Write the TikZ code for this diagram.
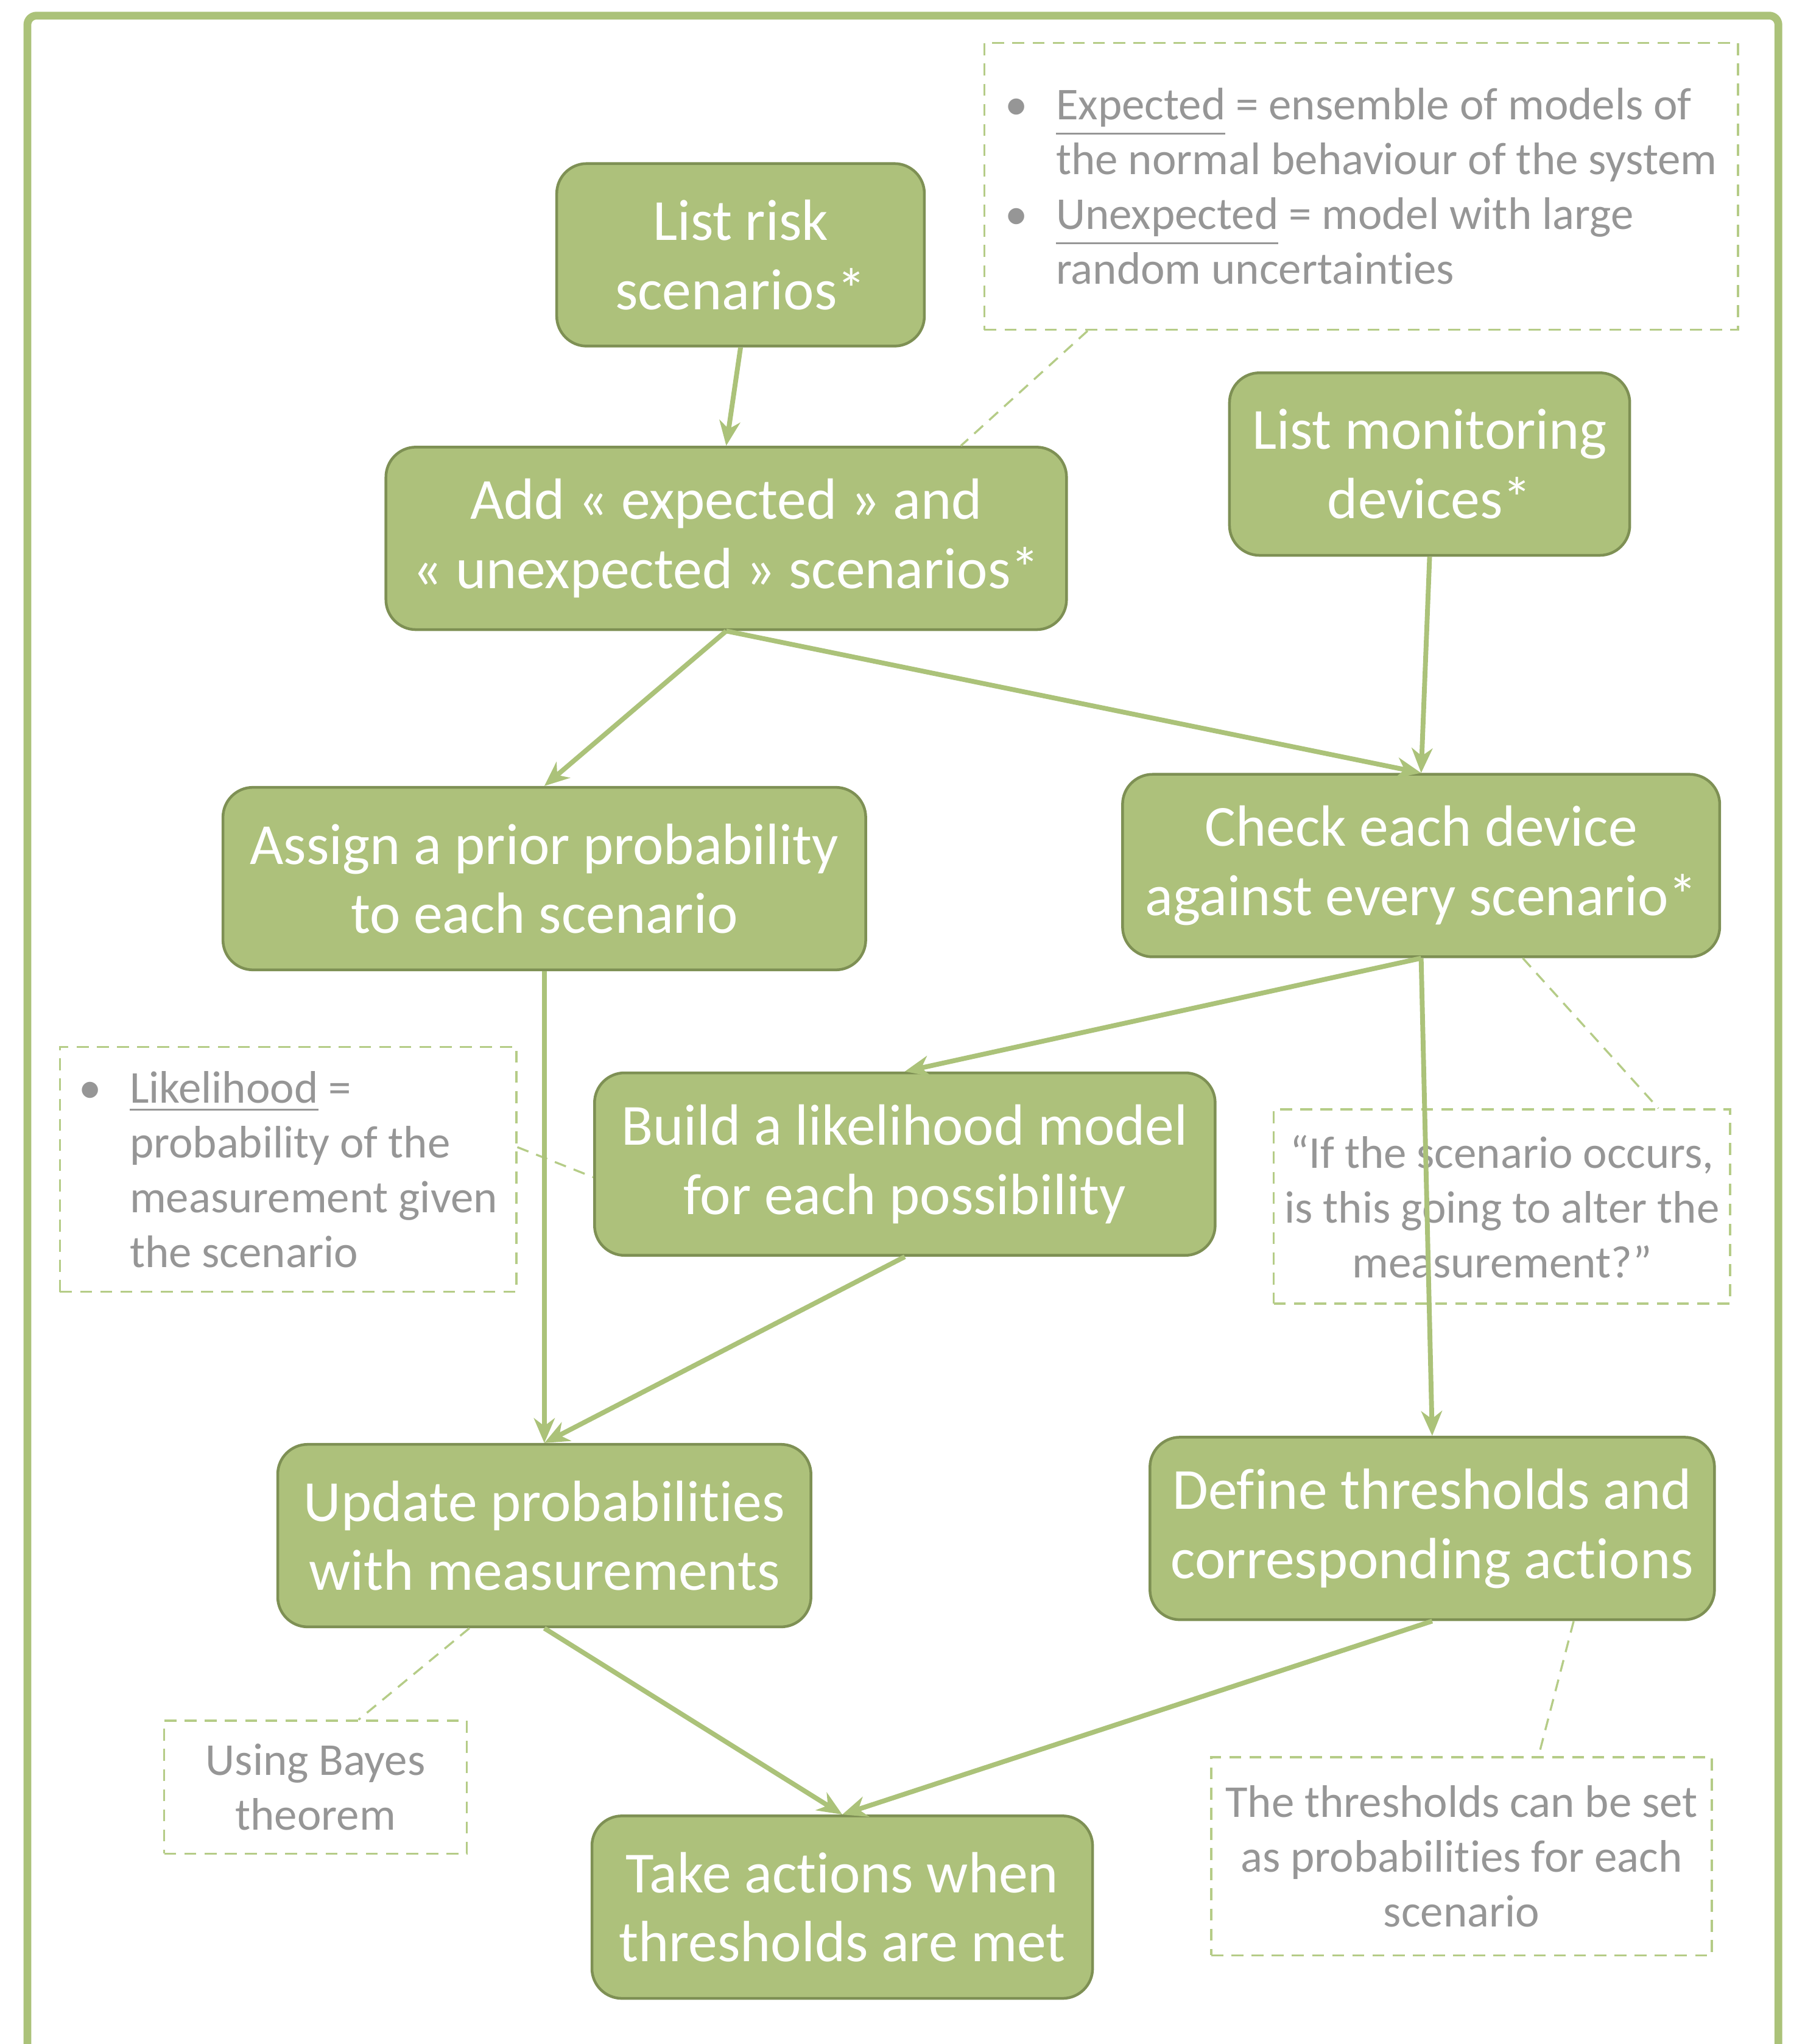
\documentclass[tikz,border=0pt]{standalone}
\usepackage{fontspec}
\setmainfont{Carlito}[Ligatures=NoCommon]
\usetikzlibrary{arrows.meta}

\definecolor{boxgreen}{RGB}{173,193,123}
\definecolor{boxedge}{RGB}{126,144,84}
\definecolor{linegreen}{RGB}{171,194,121}
\definecolor{notegreen}{RGB}{181,204,135}
\definecolor{notegray}{RGB}{150,150,150}

\newcommand{\notebul}{\makebox[0.39cm][l]{\textbullet}}
\newcommand{\noteind}{\hspace*{0.39cm}}

\begin{document}
\begin{tikzpicture}[>={Stealth[length=0.19cm,width=0.16cm,inset=0.06cm]},
    stepbox/.style={draw=boxedge, line width=0.6pt, fill=boxgreen, rounded corners=0.23cm,
        text=white, align=center, minimum height=1.40cm, inner sep=0pt,
        font=\fontsize{12.7}{15.1}\selectfont},
    note/.style={draw=notegreen, dash pattern=on 2.6pt off 1.8pt, line width=0.45pt,
        text=notegray, inner sep=0pt, font=\fontsize{9.95}{11.95}\selectfont},
    pointer/.style={draw=notegreen, dash pattern=on 2.6pt off 1.8pt, line width=0.45pt},
    flow/.style={->, draw=linegreen, line width=1.05pt}]
\path[use as bounding box] (0,0) rectangle (13.84,-15.68);
\clip (0,0) rectangle (13.84,-15.68);
\draw[linegreen, line width=1.7pt, rounded corners=2pt] (0.21,-16)--(0.21,-0.12)--(13.64,-0.12)--(13.64,-16);

% steps
\node[stepbox, minimum width=2.82cm] (risks) at (5.68,-1.955) {List risk\\scenarios*};
\node[stepbox, minimum width=5.22cm] (addsc) at (5.57,-4.13) {Add « expected » and\\« unexpected » scenarios*};
\node[stepbox, minimum width=3.07cm] (devices) at (10.965,-3.56) {List monitoring\\devices*};
\node[stepbox, minimum width=4.93cm] (prior) at (4.175,-6.74) {Assign a prior probability\\to each scenario};
\node[stepbox, minimum width=4.58cm] (check) at (10.90,-6.64) {Check each device\\against every scenario*};
\node[stepbox, minimum width=4.76cm] (likeli) at (6.94,-8.93) {Build a likelihood model\\for each possibility};
\node[stepbox, minimum width=4.09cm] (update) at (4.175,-11.78) {Update probabilities\\with measurements};
\node[stepbox, minimum width=4.33cm] (thresh) at (10.985,-11.725) {Define thresholds and\\corresponding actions};
\node[stepbox, minimum width=3.84cm] (act) at (6.46,-14.63) {Take actions when\\thresholds are met};

% notes
\node[note, minimum width=5.78cm, minimum height=2.20cm, align=left] (nexp) at (10.44,-1.43)
    {\notebul\underline{Expected} = ensemble of models of\\\noteind the normal behaviour of the system\\
     \notebul\underline{Unexpected} = model with large\\\noteind random uncertainties};
\node[note, minimum width=3.50cm, minimum height=1.88cm, align=left] (nlik) at (2.21,-8.97)
    {\notebul\underline{Likelihood} =\\\noteind probability of the\\\noteind measurement given\\\noteind the scenario};
\node[note, minimum width=3.50cm, minimum height=1.49cm, align=center] (nq) at (11.52,-9.255)
    {“If the scenario occurs,\\is this going to alter the\\measurement?”};
\node[note, minimum width=2.32cm, minimum height=1.02cm, align=center] (nbayes) at (2.42,-13.71)
    {Using Bayes\\theorem};
\node[note, minimum width=3.84cm, minimum height=1.52cm, align=center] (nthr) at (11.21,-14.24)
    {The thresholds can be set\\as probabilities for each\\scenario};

\draw[pointer] ([xshift=0.80cm]nexp.south west)--([xshift=1.80cm]addsc.north);
\draw[pointer] ([yshift=0.17cm]nlik.east)--([yshift=-0.10cm]likeli.west);
\draw[pointer] ([xshift=0.78cm]check.south)--([xshift=1.20cm]nq.north);
\draw[pointer] ([xshift=-0.575cm]update.south)--([xshift=0.33cm]nbayes.north);
\draw[pointer] ([xshift=1.085cm]thresh.south)--([xshift=0.59cm]nthr.north);

% flow
\foreach \a/\b in {risks/addsc, addsc/prior, addsc/check, devices/check, check/likeli,
    check/thresh, prior/update, likeli/update, update/act, thresh/act}
{
    \draw[flow] (\a.south)--(\b.north);
}
\end{tikzpicture}
\end{document}
